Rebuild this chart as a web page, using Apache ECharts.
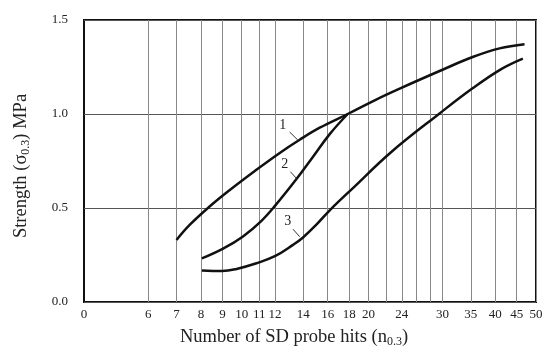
<!DOCTYPE html>
<html><head><meta charset="utf-8">
<script src="https://cdn.jsdelivr.net/npm/echarts@6/dist/echarts.min.js"></script>
<style>html,body{margin:0;padding:0;background:#fff}#c{width:550px;height:357px}</style>
</head><body><div id="c"></div>
<script>
// Data (x = number of hits, y = strength MPa)
const xMin = 4.22, xMax = 50;
const xTickLabels = [6,7,8,9,10,11,12,14,16,18,20,24,30,35,40,45,50];
const xGridValues = [6,7,8,9,10,11,12,14,16,18,20,22,24,26,28,30,35,40,45,50];
const yTicks = [0, 0.5, 1.0, 1.5];

const curve1 = [[7.0,0.330],[7.53,0.411],[8.40,0.509],[9.37,0.596],[10.74,0.697],[12.31,0.793],[13.73,0.863],[15.32,0.927],[17.85,1.0],[20.69,1.073],[23.72,1.135],[30.17,1.238],[35.35,1.303],[40.96,1.349],[46.96,1.371]];
const curve2 = [[8.04,0.232],[9.03,0.284],[10.07,0.349],[11.14,0.432],[12.02,0.514],[13.49,0.654],[14.77,0.773],[16.18,0.893],[17.85,1.0]];
const curve3 = [[8.04,0.168],[8.98,0.165],[9.72,0.176],[10.84,0.206],[12.02,0.245],[13.24,0.304],[13.96,0.342],[14.98,0.407],[16.12,0.484],[18.37,0.606],[22.66,0.798],[29.51,1.003],[35.41,1.138],[41.34,1.239],[46.53,1.295]];

const curveNames = ['1','2','3'];
const labelPos = [[12.51,0.94],[12.65,0.734],[12.86,0.431]];
const leaderStart = [[13.0,0.904],[13.05,0.693],[13.24,0.387]];
const leaderEnd = [[13.58,0.862],[13.48,0.658],[13.73,0.347]];

const FONT = '"Liberation Serif","Times New Roman",serif';
const curves = [curve1, curve2, curve3];

const chart = echarts.init(document.getElementById('c'));
chart.setOption({
  animation: false,
  grid: {left: 84, right: 14, top: 20, bottom: 55, show: true, borderColor: '#111', borderWidth: 2, backgroundColor: 'transparent'},
  xAxis: {
    type: 'log', min: xMin, max: xMax, logBase: 10,
    name: '{a|Number of SD probe hits (n}{s|0.3}{a|)}',
    nameLocation: 'middle', nameGap: 25,
    nameTextStyle: {padding: [0, 32, 0, 0], rich: {a: {fontFamily: FONT, fontSize: 18.5, color: '#222'}, s: {fontFamily: FONT, fontSize: 12, color: '#222', padding: [9,0,0,0]}}},
    axisLine: {show: false},
    axisTick: {show: false, customValues: xGridValues},
    axisLabel: {customValues: [xMin].concat(xTickLabels), fontFamily: FONT, fontSize: 13, color: '#222', margin: 6,
      formatter: v => (v < 5 ? '0' : String(Math.round(v)))},
    splitLine: {show: true, lineStyle: {color: '#888', width: 1}}
  },
  yAxis: {
    type: 'value', min: 0, max: 1.5, interval: 0.5,
    name: '{a|Strength (σ}{s|0.3}{a|) MPa}',
    nameLocation: 'middle', nameGap: 52, nameRotate: 90,
    nameTextStyle: {padding: [0, 10, 0, 0], rich: {a: {fontFamily: FONT, fontSize: 18.5, color: '#222'}, s: {fontFamily: FONT, fontSize: 12, color: '#222', padding: [9,0,0,0]}}},
    axisLine: {show: false}, axisTick: {show: false},
    axisLabel: {fontFamily: FONT, fontSize: 13, color: '#222', margin: 16, formatter: v => v.toFixed(1)},
    splitLine: {show: true, lineStyle: {color: '#555', width: 1}}
  },
  series: curves.map((c, i) => ({
    type: 'line', data: c, smooth: 0.4, symbol: 'none',
    lineStyle: {color: '#111', width: 2.5},
    markPoint: {symbol: 'circle', symbolSize: 0, data: [{coord: labelPos[i], value: curveNames[i]}],
      label: {show: true, position: 'inside', formatter: curveNames[i], fontFamily: FONT, fontSize: 14, color: '#222'}},
    markLine: {symbol: 'none', silent: true, label: {show: false},
      lineStyle: {color: '#333', width: 1, type: 'solid'},
      data: [[{coord: leaderStart[i]}, {coord: leaderEnd[i]}]]}
  }))
});
</script></body></html>
